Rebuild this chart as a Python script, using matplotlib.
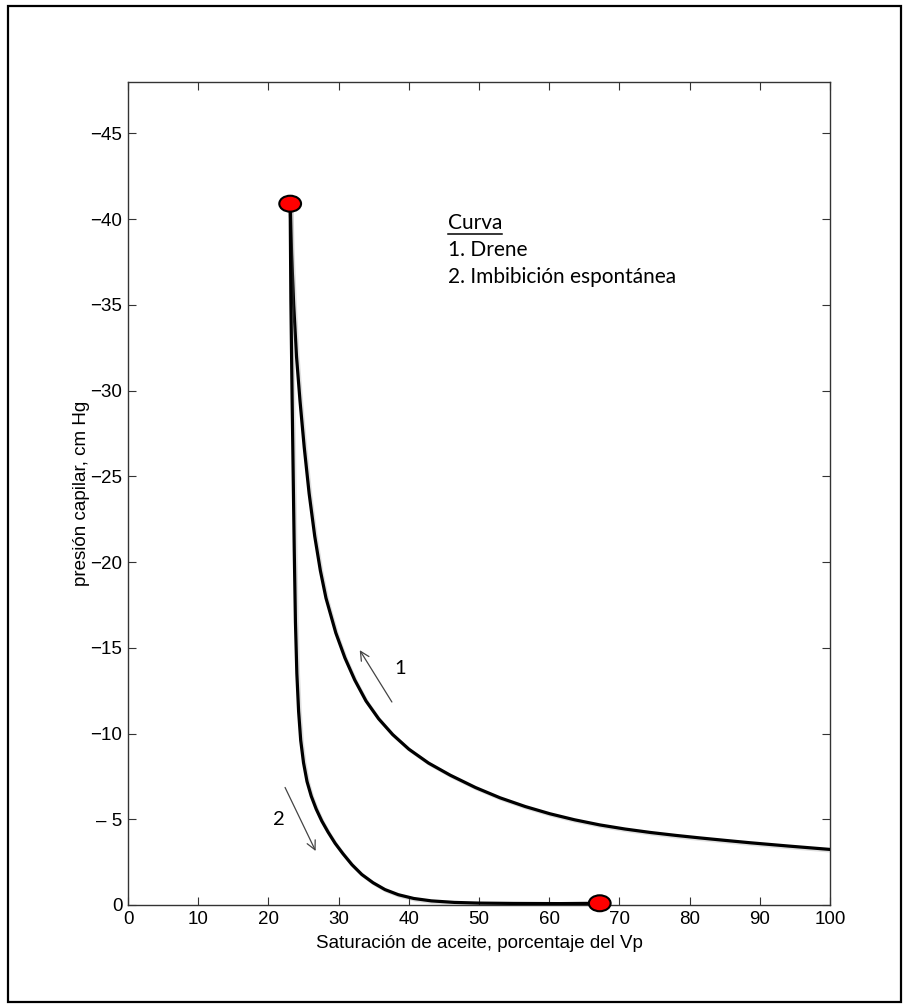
import matplotlib.pyplot as plt
import matplotlib.patheffects as pe
from matplotlib.patches import Ellipse, Rectangle
from matplotlib.lines import Line2D

# Curva 1: drene (saturación %, presión capilar cm Hg)
drene_so = [23.1, 23.3, 23.6, 24.0, 24.5, 25.1, 25.8, 26.6, 27.4, 28.2, 29.6, 30.9,
            32.3, 33.9, 35.7, 37.7, 40.0, 42.8, 45.9, 49.5, 53.0, 56.6, 60.1, 63.6,
            67.2, 70.8, 74.4, 78.0, 81.5, 85.0, 88.6, 94.0, 100.0]
drene_pc = [-40.9, -38.0, -35.0, -32.0, -29.4, -26.7, -24.0, -21.5, -19.5, -17.9, -15.87, -14.41,
            -13.12, -11.9, -10.86, -9.94, -9.09, -8.28, -7.57, -6.85, -6.25, -5.74, -5.32, -4.97,
            -4.67, -4.43, -4.23, -4.06, -3.91, -3.77, -3.63, -3.44, -3.24]

# Curva 2: imbibición espontánea
imb_so = [23.1, 23.2, 23.38, 23.68, 23.85, 24.05, 24.3, 24.6, 25.0, 25.5, 26.1, 26.8,
          27.6, 28.5, 29.5, 30.6, 31.9, 33.3, 34.9, 36.6, 38.5, 40.7, 43.2, 46.5,
          50.0, 55.0, 61.5, 67.2]
imb_pc = [-40.9, -35.3, -29.4, -20.7, -16.5, -13.5, -11.3, -9.6, -8.3, -7.2, -6.35, -5.6,
          -4.9, -4.25, -3.6, -3.0, -2.35, -1.78, -1.3, -0.9, -0.6, -0.38, -0.24, -0.15,
          -0.11, -0.09, -0.08, -0.1]

# puntos extremos (rojos)
extremos_so = [23.1, 67.2]
extremos_pc = [-40.9, -0.1]

xticks = [0, 10, 20, 30, 40, 50, 60, 70, 80, 90, 100]
yticks = [0, -5, -10, -15, -20, -25, -30, -35, -40, -45]
ylabels = ["0", "\u2013 5", "\u221210", "\u221215", "\u221220", "\u221225",
           "\u221230", "\u221235", "\u221240", "\u221245"]

plt.rcParams['font.family'] = ['Liberation Sans', 'DejaVu Sans']

fig = plt.figure(figsize=(9.06, 10.08), dpi=100)
ax = fig.add_axes([0.1413, 0.1022, 0.7748, 0.8165])

# marco exterior
fig.patches.append(Rectangle((8 / 906, 6 / 1008), 893 / 906, 996 / 1008,
                             transform=fig.transFigure, fill=False,
                             edgecolor='black', linewidth=1.6))

sombra = [pe.SimpleLineShadow(offset=(1.2, -1.2), shadow_color='gray', alpha=0.25),
          pe.Normal()]
ax.plot(drene_so, drene_pc, color='black', linewidth=2.3,
        solid_capstyle='round', solid_joinstyle='round', path_effects=sombra, zorder=3)
ax.plot(imb_so, imb_pc, color='black', linewidth=2.3,
        solid_capstyle='round', solid_joinstyle='round', path_effects=sombra, zorder=3)

for so, pc in zip(extremos_so, extremos_pc):
    ax.add_patch(Ellipse((so, pc), 3.1, 0.93, facecolor='#ff0000',
                         edgecolor='black', linewidth=1.5, zorder=5, clip_on=False))

ax.set_xlim(0, 100)
ax.set_ylim(0, -48)
ax.set_xticks(xticks)
ax.set_yticks(yticks)
ax.set_yticklabels(ylabels)
ax.tick_params(direction='in', length=6, width=0.8, color='#333333',
               top=True, right=True, labelsize=13.5, pad=4)
for s in ax.spines.values():
    s.set_color('#333333')
    s.set_linewidth(1.0)

ax.set_xlabel("Saturación de aceite, porcentaje del Vp", fontsize=13.5)
ax.set_ylabel("presión capilar, cm Hg", fontsize=13.5)
ax.xaxis.set_label_coords(0.5, -0.037)
ax.yaxis.set_label_coords(-0.054, 0.5)

# flechas de sentido de cada curva
flecha = dict(arrowstyle='->', color='#444444', linewidth=0.9, mutation_scale=16)
ax.annotate("", xy=(32.8, -15.0), xytext=(37.8, -11.7), arrowprops=flecha)
ax.annotate("", xy=(26.9, -3.0), xytext=(22.2, -7.0), arrowprops=flecha)
ax.text(37.9, -13.8, "1", fontsize=14.5, family='Lato', va='center', ha='left')
ax.text(22.3, -5.0, "2", fontsize=14.5, family='Lato', va='center', ha='right')

# leyenda de texto
t = ax.text(45.6, -39.8, "Curva", fontsize=15, family='Lato', va='center', ha='left')
ax.text(45.6, -38.2, "1. Drene", fontsize=15, family='Lato', va='center', ha='left')
ax.text(45.6, -36.65, "2. Imbibición espontánea", fontsize=15, family='Lato',
        va='center', ha='left')

fig.canvas.draw()
bb = t.get_window_extent()
y_sub = bb.y0 - 1
ax.add_line(Line2D([bb.x0, bb.x1], [y_sub, y_sub], transform=None,
                   color='black', linewidth=1.1))

fig.savefig("out.png", dpi=100)
